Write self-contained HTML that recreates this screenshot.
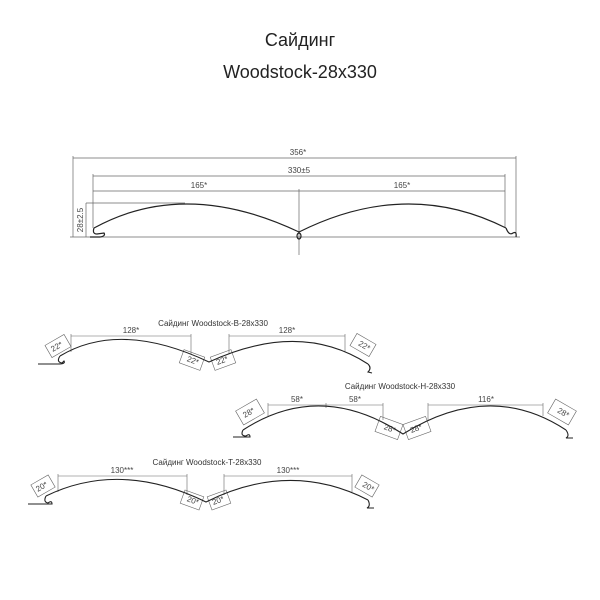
<!DOCTYPE html>
<html><head><meta charset="utf-8"><style>
body{margin:0;background:#fff;}
svg{display:block;font-family:"Liberation Sans",sans-serif;}
</style></head><body>
<svg width="600" height="600" viewBox="0 0 600 600" xmlns="http://www.w3.org/2000/svg">
<rect width="600" height="600" fill="#fff"/>
<text x="300" y="46" font-size="18" text-anchor="middle" fill="#222">Сайдинг</text>
<text x="300" y="78" font-size="18" text-anchor="middle" fill="#222">Woodstock-28x330</text>

<g stroke="#666" stroke-width="0.7" fill="none">
<line x1="73" y1="158" x2="516" y2="158"/>
<line x1="73" y1="156" x2="73" y2="237"/>
<line x1="516" y1="156" x2="516" y2="237"/>
<line x1="93" y1="176" x2="505" y2="176"/>
<line x1="93" y1="174" x2="93" y2="228"/>
<line x1="505" y1="174" x2="505" y2="228"/>
<line x1="93" y1="191" x2="505" y2="191"/>
<line x1="299" y1="189" x2="299" y2="255"/>
<line x1="70" y1="237" x2="520" y2="237"/>
<line x1="86" y1="203" x2="185" y2="203"/>
<line x1="86" y1="203" x2="86" y2="237"/>
</g>
<g fill="#444" font-size="8" text-anchor="middle">
<text x="298" y="155">356*</text>
<text x="299" y="173">330±5</text>
<text x="199" y="188">165*</text>
<text x="402" y="188">165*</text>
<text transform="translate(83,220) rotate(-90)">28±2.5</text>
</g>
<g stroke="#222" stroke-width="1.2" fill="none">
<path d="M94,228 Q185,178 299,232 Q407,178 506,228"/>
<path d="M94,228 Q92,234 97,234 L104,233 Q106,236 100,237 L90,237"/>
<path d="M506,228 Q509,236 513,233 Q517,231 516,237"/>
<ellipse cx="299" cy="236" rx="2" ry="3"/>
</g>

<!-- Profile B -->
<text x="213" y="326" font-size="8" text-anchor="middle" fill="#333">Сайдинг Woodstock-B-28x330</text>
<g stroke="#666" stroke-width="0.6" fill="none">
<line x1="71" y1="336" x2="191" y2="336"/><line x1="71" y1="334" x2="71" y2="352"/><line x1="191" y1="334" x2="191" y2="354"/>
<line x1="229" y1="336" x2="345" y2="336"/><line x1="229" y1="334" x2="229" y2="354"/><line x1="345" y1="334" x2="345" y2="352"/>
<rect x="-11" y="-7" width="22" height="14" transform="translate(58,346) rotate(-30)"/>
<rect x="-11" y="-7" width="22" height="14" transform="translate(192,360) rotate(20)"/>
<rect x="-11" y="-7" width="22" height="14" transform="translate(223,360) rotate(-20)"/>
<rect x="-11" y="-7" width="22" height="14" transform="translate(363,345) rotate(30)"/>
</g>
<g fill="#444" font-size="8" text-anchor="middle">
<text x="131" y="333">128*</text><text x="287" y="333">128*</text>
<text transform="translate(58,349) rotate(-30)">22*</text>
<text transform="translate(192,363) rotate(20)">22*</text>
<text transform="translate(223,363) rotate(-20)">22*</text>
<text transform="translate(363,348) rotate(30)">22*</text>
</g>
<g stroke="#222" stroke-width="1.1" fill="none">
<path d="M60,356 Q120,320 209,362 Q300,320 368,364"/>
<path d="M60,356 Q56,362 62,363 L64,361 Q66,364 58,364 L38,364"/>
<path d="M368,364 Q372,368 368,372 L372,373"/>
</g>

<!-- Profile H -->
<text x="400" y="389" font-size="8" text-anchor="middle" fill="#333">Сайдинг Woodstock-H-28x330</text>
<g stroke="#666" stroke-width="0.6" fill="none">
<line x1="268" y1="405" x2="383" y2="405"/><line x1="268" y1="403" x2="268" y2="416"/><line x1="326" y1="403" x2="326" y2="408"/><line x1="383" y1="403" x2="383" y2="420"/>
<line x1="428" y1="405" x2="543" y2="405"/><line x1="428" y1="403" x2="428" y2="420"/><line x1="543" y1="403" x2="543" y2="416"/>
<rect x="-12" y="-8" width="24" height="16" transform="translate(250,412) rotate(-30)"/>
<rect x="-12" y="-8" width="24" height="16" transform="translate(389,428) rotate(20)"/>
<rect x="-12" y="-8" width="24" height="16" transform="translate(417,428) rotate(-20)"/>
<rect x="-12" y="-8" width="24" height="16" transform="translate(562,412) rotate(30)"/>
</g>
<g fill="#444" font-size="8" text-anchor="middle">
<text x="297" y="402">58*</text><text x="355" y="402">58*</text><text x="486" y="402">116*</text>
<text transform="translate(250,415) rotate(-30)">28*</text>
<text transform="translate(389,431) rotate(20)">28*</text>
<text transform="translate(417,431) rotate(-20)">28*</text>
<text transform="translate(562,415) rotate(30)">28*</text>
</g>
<g stroke="#222" stroke-width="1.1" fill="none">
<path d="M243,430 Q320,380 403,434 Q490,380 566,430"/>
<path d="M243,430 Q240,436 246,436 Q250,433 250,437 L233,437"/>
<path d="M566,430 Q570,436 566,438 L573,438"/>
</g>

<!-- Profile T -->
<text x="207" y="465" font-size="8" text-anchor="middle" fill="#333">Сайдинг Woodstock-T-28x330</text>
<g stroke="#666" stroke-width="0.6" fill="none">
<line x1="58" y1="476" x2="187" y2="476"/><line x1="58" y1="474" x2="58" y2="492"/><line x1="187" y1="474" x2="187" y2="495"/>
<line x1="224" y1="476" x2="352" y2="476"/><line x1="224" y1="474" x2="224" y2="495"/><line x1="352" y1="474" x2="352" y2="492"/>
<rect x="-10" y="-7" width="20" height="14" transform="translate(43,486) rotate(-30)"/>
<rect x="-10" y="-7" width="20" height="14" transform="translate(192,500) rotate(20)"/>
<rect x="-10" y="-7" width="20" height="14" transform="translate(219,500) rotate(-20)"/>
<rect x="-10" y="-7" width="20" height="14" transform="translate(367,486) rotate(30)"/>
</g>
<g fill="#444" font-size="8" text-anchor="middle">
<text x="122" y="473">130***</text><text x="288" y="473">130***</text>
<text transform="translate(43,489) rotate(-30)">20*</text>
<text transform="translate(192,503) rotate(20)">20*</text>
<text transform="translate(219,503) rotate(-20)">20*</text>
<text transform="translate(367,489) rotate(30)">20*</text>
</g>
<g stroke="#222" stroke-width="1.1" fill="none">
<path d="M46,496 Q120,460 206,502 Q290,460 368,500"/>
<path d="M46,496 Q43,502 48,503 Q52,500 52,504 L28,504"/>
<path d="M368,500 Q371,506 367,508 L374,508"/>
</g>
</svg>
</body></html>
